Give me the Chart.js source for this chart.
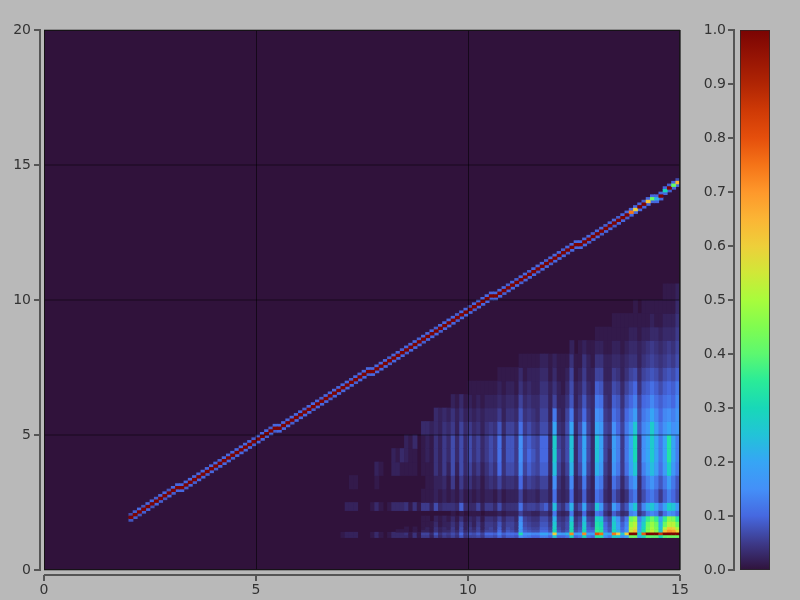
<!DOCTYPE html>
<html>
<head>
<meta charset="utf-8">
<script src="https://cdn.jsdelivr.net/npm/chart.js@4"></script>
<style>
  html, body { margin: 0; background: #b9b9b9; }
  canvas { position: absolute; top: 0; }
</style>
</head>
<body>
<canvas id="mainGraf" width="700" height="600" style="left:0"></canvas>
<canvas id="barGraf" width="100" height="600" style="left:700px"></canvas>
<script>
// Values are in hundredths of the 0-1 colour range
const xTicks = [0, 5, 10, 15];
const yTicks = [0, 5, 10, 15, 20];
const binSize = 0.1;

// Straight line: first column is 2.0, one entry per 0.1 in x
const diagFirstCol = 20;
const diagRows = [
  19,20,21,22,23,24,25,26,27,28,
  29,30,30,31,32,33,34,35,36,37,
  38,39,40,41,42,43,44,45,46,47,
  48,49,50,51,52,52,53,54,55,56,
  57,58,59,60,61,62,63,64,65,66,
  67,68,69,70,71,72,73,73,74,75,
  76,77,78,79,80,81,82,83,84,85,
  86,87,88,89,90,91,92,93,94,95,
  96,97,98,99,100,101,101,102,103,104,
  105,106,107,108,109,110,111,112,113,114,
  115,116,117,118,119,120,120,121,122,123,
  124,125,126,127,128,129,130,131,132,133,
  134,135,136,137,137,138,140,141,142,143
];
const diagLow = [
  8,9,8,9,10,8,10,9,8,10,
  9,10,10,9,10,9,10,10,9,10,
  9,10,10,10,9,10,10,10,10,9,
  10,10,9,10,9,10,10,10,9,10,
  10,10,10,9,10,10,10,9,10,10,
  10,10,10,9,10,10,9,10,10,10,
  10,9,10,10,10,9,10,10,10,9,
  10,10,10,9,10,10,10,9,10,10,
  10,9,10,10,10,10,10,10,9,10,
  10,10,9,10,10,10,9,10,10,9,
  10,10,10,9,10,10,10,10,9,10,
  10,9,10,10,9,10,10,9,10,10,
  10,10,10,10,10,10,10,9,10,10
];
const diagMid = [
  100,100,100,100,100,100,100,100,100,100,
  100,100,100,100,100,100,100,100,100,100,
  100,100,100,100,100,100,100,100,100,100,
  100,100,100,100,100,100,100,100,100,100,
  100,100,100,100,100,100,100,100,100,100,
  100,100,100,100,100,100,100,100,100,100,
  100,100,100,100,100,100,100,100,100,100,
  100,100,100,100,100,100,100,100,100,100,
  100,100,100,100,100,100,100,100,100,100,
  100,100,100,100,100,100,100,100,100,100,
  100,100,100,100,100,100,100,100,100,100,
  100,100,100,100,100,100,100,100,75,60,
  100,100,62,42,22,100,30,100,42,65
];
const diagUp = [
  7,9,10,8,10,10,9,10,10,8,
  10,10,10,10,10,10,10,10,10,10,
  10,9,10,10,10,10,10,10,10,9,
  10,10,10,9,10,10,10,10,10,10,
  10,9,10,10,10,9,10,10,10,10,
  10,10,9,10,10,10,10,10,10,10,
  10,9,10,10,9,10,10,10,9,10,
  10,10,9,10,10,10,10,9,10,10,
  8,10,10,10,10,10,10,10,10,9,
  10,9,10,10,9,10,10,10,9,10,
  10,10,9,10,10,10,10,10,10,9,
  10,10,9,10,10,9,10,10,10,10,
  10,9,10,10,10,10,10,9,10,7
];

// Lower right patch: first column is 7.0, each line lists the bands bottom to top
const heatFirstCol = 70;
const bandEdges = [1.2,1.3,1.4,1.5,1.6,1.8,2,2.2,2.5,3,3.5,4,4.5,5,5.5,6,6.5,7,7.5,8,8.5,9,9.5,10,10.6];
const heatCols = [
  [1,1],
  [2,2,0,0,0,0,0,2],
  [2,2,0,0,0,0,0,2,0,1],
  [2,2,0,0,0,0,0,2,0,1],
  [],
  [],
  [],
  [1,1,0,0,0,0,0,1],
  [3,3,0,0,0,0,0,3,0,1,2],
  [1,1,0,0,0,0,0,1,0,0,1],
  [],
  [1,1,0,0,0,0,0,1],
  [3,3,0,0,0,0,0,3,0,0,2,2],
  [3,3,1,0,0,0,0,3,0,0,2,1],
  [3,3,1,0,0,0,0,3,0,0,1,3],
  [3,4,1,1,0,0,0,4,0,0,1,2,2],
  [1,1,0,0,0,0,0,1,0,0,1,1,1],
  [4,4,1,1,0,0,0,4,0,0,1,1,3],
  [1,1,0,0,0,0,0,1],
  [5,6,2,1,1,1,0,5,1,0,1,1,1,3],
  [5,6,2,2,1,1,0,5,1,1,1,2,2,3],
  [2,3,1,1,1,0,0,2,1,1,1,1,1,2],
  [6,8,4,4,3,2,0,7,2,2,4,4,4,3,3],
  [3,4,2,2,1,1,0,3,1,2,2,2,2,2,2],
  [5,6,3,3,2,2,0,4,2,3,5,5,5,4,3],
  [4,5,3,2,2,1,0,4,1,1,2,3,3,3,2],
  [6,7,5,5,4,3,1,4,2,5,7,7,7,5,4,2],
  [4,5,3,2,2,1,0,3,1,1,2,3,3,2,2,1],
  [8,10,7,7,6,4,1,9,3,5,7,7,7,6,4,3],
  [4,5,3,2,2,1,0,3,1,2,3,3,3,3,2,1],
  [6,8,5,5,4,3,1,3,2,4,6,7,7,5,3,2,1],
  [6,7,4,3,2,2,1,3,1,2,3,4,4,3,2,1,1],
  [7,9,6,6,5,4,1,6,2,3,5,6,6,4,3,2,1],
  [5,6,3,2,2,1,0,2,1,1,2,3,3,2,2,1,1],
  [8,10,6,5,5,4,1,5,2,3,4,5,5,4,3,2,1],
  [8,10,6,6,5,4,1,5,2,4,6,7,7,5,3,2,1],
  [7,9,5,4,4,3,1,3,1,3,4,5,5,4,3,2,1],
  [10,13,10,9,8,6,2,7,3,6,10,11,11,8,5,3,2,1],
  [7,9,5,4,4,3,1,3,1,3,4,4,4,3,2,2,1,1],
  [9,11,8,7,6,5,2,4,2,4,7,8,8,6,4,3,2,1],
  [9,11,7,6,6,5,2,4,2,4,7,8,8,6,4,3,2,1],
  [8,10,5,4,4,3,2,4,2,3,5,5,5,4,3,2,1,1],
  [15,32,17,17,16,14,6,11,6,10,14,15,15,11,8,6,4,3,1],
  [13,15,9,8,7,6,3,5,2,4,6,7,7,5,4,3,2,1,1],
  [12,16,8,7,6,5,3,6,3,6,9,10,9,7,5,4,3,2,1],
  [10,14,7,6,5,4,2,6,3,5,7,8,7,5,4,3,2,2,1],
  [10,14,7,6,5,4,2,5,2,4,6,6,6,4,3,3,2,2,1],
  [13,20,10,9,8,7,4,7,4,6,9,10,10,7,6,5,4,3,2],
  [13,20,10,9,8,7,4,9,4,6,9,10,10,7,6,5,4,3,2],
  [10,15,7,6,5,4,2,4,2,2,3,3,3,3,2,2,2,1,1],
  [25,60,30,28,26,22,12,24,11,15,24,27,27,20,12,6,4,3,2],
  [10,20,8,7,6,5,3,6,3,4,6,7,6,4,3,2,2,1,1],
  [10,17,6,5,5,4,2,4,2,2,3,4,4,3,2,2,1,1,1],
  [12,22,8,7,7,6,3,8,3,4,6,7,7,7,6,4,3,2,1],
  [30,72,32,30,28,24,12,22,10,14,22,25,25,20,12,8,7,6,4,2],
  [10,18,7,6,5,4,2,4,2,2,3,3,3,3,3,2,2,1,1],
  [12,20,9,8,7,6,3,7,3,4,7,8,8,7,5,4,3,2,1,1],
  [30,72,30,28,26,22,10,20,9,12,18,20,20,16,10,8,6,5,4,2],
  [12,20,10,9,8,6,3,6,3,4,6,7,7,6,5,4,3,2,2,1],
  [10,18,10,8,6,5,2,5,2,2,3,3,3,3,3,3,2,2,1,1],
  [33,80,36,34,32,28,12,25,11,14,22,25,25,20,15,12,9,6,4,2,1],
  [33,75,34,32,30,26,10,17,9,12,17,19,19,17,14,11,8,6,4,2,1],
  [15,22,12,11,10,8,4,6,3,4,5,6,6,6,5,4,3,2,2,1,1],
  [12,20,8,8,7,6,2,4,2,2,3,3,4,5,4,3,3,2,2,1,1],
  [28,75,30,28,27,24,9,18,8,11,16,18,18,15,11,9,7,5,3,2,1,1],
  [25,60,22,20,19,16,6,12,5,8,12,13,13,10,9,8,6,4,3,2,1,1],
  [15,25,11,10,9,7,3,5,2,3,5,5,5,6,5,4,3,2,2,1,1,1],
  [20,60,16,15,14,12,4,8,4,7,11,12,12,12,10,8,6,4,3,2,1,1],
  [42,100,55,52,48,42,13,20,9,13,19,20,20,17,13,10,8,6,4,3,2,1],
  [42,100,62,56,52,46,15,26,12,17,26,30,30,26,18,13,10,7,4,3,2,1,1],
  [20,30,20,18,16,13,4,6,3,3,5,5,5,8,7,6,4,3,2,2,1,1],
  [30,78,32,30,28,24,7,14,7,9,13,15,15,14,12,10,8,6,4,3,2,1,1],
  [40,100,46,44,42,36,12,22,10,13,18,20,20,17,14,11,9,7,5,4,2,1,1],
  [40,100,54,50,48,42,14,26,12,16,24,27,27,27,20,14,11,8,6,5,3,2,1],
  [40,100,46,44,42,36,12,20,9,12,18,20,20,18,14,11,9,7,5,4,3,1,1],
  [30,85,27,25,23,19,6,12,5,8,11,12,12,12,10,9,7,5,4,3,2,1,1],
  [40,100,62,52,42,36,11,20,9,12,18,20,20,16,14,11,9,7,5,4,3,2,1,1],
  [42,100,70,62,52,46,16,28,13,18,28,33,33,20,15,12,10,8,6,5,3,2,1,1],
  [42,100,68,60,52,44,14,25,10,12,17,20,20,15,13,10,9,7,5,4,3,2,1,1],
  [42,100,58,50,42,34,10,17,7,8,12,13,13,17,16,14,12,9,7,6,5,4,3,2]
];

// Colour scale
const colorLevels = [0,.05,.1,.15,.2,.25,.3,.35,.4,.45,.5,.55,.6,.65,.7,.75,.8,.85,.9,.95,1];
const colorHexes = ['#30123b','#3d3a8a','#4668e0','#4490f8','#36a5f5','#22c3d8','#18d8b8','#2aeb98','#5cf870','#80fc50',
  '#a8fc3c','#d0e838','#eecf3a','#fbb535','#fe982b','#f57418','#e54f0c','#cf3a06','#b02504','#961404','#7a0403'];
const barLevels = [0, 0.1, 0.2, 0.3, 0.4, 0.5, 0.6, 0.7, 0.8, 0.9, 1];

function hexToRgb(hex) {
  return [1, 3, 5].map(i => parseInt(hex.slice(i, i + 2), 16));
}

function colorFor(v) {
  let i = 0;
  while (i < colorLevels.length - 2 && v > colorLevels[i + 1]) i++;
  const t = (v - colorLevels[i]) / (colorLevels[i + 1] - colorLevels[i]);
  const a = hexToRgb(colorHexes[i]);
  const b = hexToRgb(colorHexes[i + 1]);
  const c = a.map((p, k) => Math.round(p + (b[k] - p) * t));
  return 'rgb(' + c.join(',') + ')';
}

// Collect the cells, empty ones stay out
const cells = [];
function addCell(col, lo, hi, v) {
  if (v > 0) cells.push({ x: (col + 0.5) * binSize, y: [lo, hi], v: v / 100 });
}
heatCols.forEach((bands, i) => {
  bands.forEach((v, b) => addCell(heatFirstCol + i, bandEdges[b], bandEdges[b + 1], v));
});
diagRows.forEach((row, i) => {
  const col = diagFirstCol + i;
  addCell(col, (row - 1) * binSize, row * binSize, diagLow[i]);
  addCell(col, (row + 1) * binSize, (row + 2) * binSize, diagUp[i]);
});
// The red middle goes last so the blue cells do not eat into it
diagRows.forEach((row, i) => {
  addCell(diagFirstCol + i, row * binSize, (row + 1) * binSize, diagMid[i]);
});

const tickFont = { family: 'DejaVu Sans', size: 14 };
const textColor = '#333333';

// Axis lines sit a few pixels away from the plot, so they are drawn here from the scale positions
const detachedAxes = {
  id: 'detachedAxes',
  beforeDatasetsDraw(chart, args, opts) {
    const { ctx, chartArea: a } = chart;
    ctx.save();
    ctx.fillStyle = opts.plotColor;
    ctx.fillRect(a.left, a.top, a.right - a.left, a.bottom - a.top);
    ctx.restore();
  },
  afterDraw(chart, args, opts) {
    const { ctx, chartArea: a, scales } = chart;
    ctx.save();
    ctx.strokeStyle = opts.frameColor;
    ctx.lineWidth = 1;
    ctx.strokeRect(a.left + 0.5, a.top + 0.5, a.right - a.left - 1, a.bottom - a.top - 1);
    ctx.strokeStyle = '#555555';
    ctx.lineWidth = 2;
    ctx.beginPath();
    const lx = a.left - opts.gap;
    ctx.moveTo(lx, a.top - 1);
    ctx.lineTo(lx, a.bottom + 1);
    scales.y.ticks.forEach(t => {
      const py = scales.y.getPixelForValue(t.value);
      ctx.moveTo(lx, py);
      ctx.lineTo(lx - 6, py);
    });
    if (opts.bottomAxis) {
      const ly = a.bottom + 5;
      ctx.moveTo(a.left, ly);
      ctx.lineTo(a.right, ly);
      scales.x.ticks.forEach(t => {
        const px = scales.x.getPixelForValue(t.value);
        ctx.moveTo(px, ly);
        ctx.lineTo(px, ly + 6);
      });
    }
    ctx.stroke();
    ctx.restore();
  }
};

new Chart(document.getElementById('mainGraf'), {
  type: 'bar',
  data: {
    datasets: [{
      data: cells,
      backgroundColor: ctx => ctx.raw ? colorFor(ctx.raw.v) : '#30123b',
      barPercentage: 1,
      categoryPercentage: 1
    }]
  },
  plugins: [detachedAxes],
  options: {
    responsive: false,
    animation: false,
    layout: { padding: { top: 30, right: 20 } },
    plugins: {
      legend: { display: false },
      tooltip: { enabled: false },
      detachedAxes: { plotColor: '#30123b', frameColor: 'rgba(20,20,20,0.85)', gap: 4, bottomAxis: true }
    },
    scales: {
      x: {
        type: 'linear', min: 0, max: 15, offset: false,
        afterBuildTicks: s => { s.ticks = xTicks.map(v => ({ value: v })); },
        afterFit: s => { s.height = 30; s.paddingLeft = 0; s.paddingRight = 0; },
        border: { display: false },
        grid: { offset: false, color: 'rgba(0,0,0,0.55)', drawTicks: false, z: 1 },
        ticks: { font: tickFont, color: textColor, padding: 12, maxRotation: 0, autoSkip: false }
      },
      y: {
        type: 'linear', min: 0, max: 20,
        afterBuildTicks: s => { s.ticks = yTicks.map(v => ({ value: v })); },
        afterFit: s => { s.width = 44; s.paddingTop = 0; s.paddingBottom = 0; },
        border: { display: false },
        grid: { color: 'rgba(0,0,0,0.25)', lineWidth: 2, drawTicks: false, z: 1 },
        ticks: { font: tickFont, color: textColor, padding: 13, autoSkip: false }
      }
    }
  }
});

// Colour bar
new Chart(document.getElementById('barGraf'), {
  type: 'bar',
  data: {
    labels: [''],
    datasets: [{
      data: [[barLevels[0], barLevels[barLevels.length - 1]]],
      barPercentage: 1,
      categoryPercentage: 1,
      backgroundColor: ctx => {
        const { chartArea, scales } = ctx.chart;
        if (!chartArea) return colorHexes[0];
        const g = ctx.chart.ctx.createLinearGradient(0, scales.y.getPixelForValue(0), 0, scales.y.getPixelForValue(1));
        colorLevels.forEach((v, i) => g.addColorStop(v, colorHexes[i]));
        return g;
      }
    }]
  },
  plugins: [detachedAxes],
  options: {
    responsive: false,
    animation: false,
    layout: { padding: { top: 30, bottom: 30, right: 30 } },
    plugins: {
      legend: { display: false },
      tooltip: { enabled: false },
      detachedAxes: { plotColor: 'rgba(0,0,0,0)', frameColor: 'rgba(40,40,40,0.7)', gap: 6, bottomAxis: false }
    },
    scales: {
      x: { display: false },
      y: {
        type: 'linear', min: 0, max: 1,
        afterBuildTicks: s => { s.ticks = barLevels.map(v => ({ value: v })); },
        afterFit: s => { s.width = 40; s.paddingTop = 0; s.paddingBottom = 0; },
        border: { display: false },
        grid: { display: false, drawTicks: false },
        ticks: { font: tickFont, color: textColor, padding: 14, autoSkip: false, callback: v => Number(v).toFixed(1) }
      }
    }
  }
});
</script>
</body>
</html>
